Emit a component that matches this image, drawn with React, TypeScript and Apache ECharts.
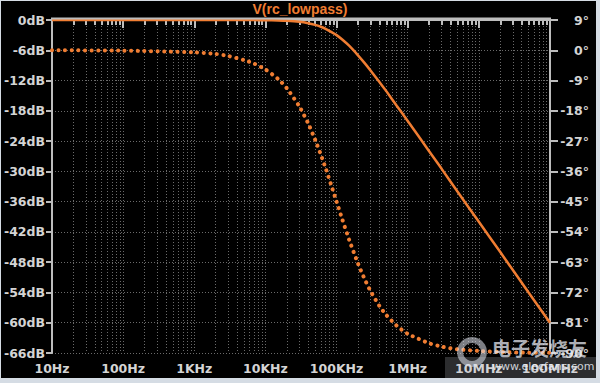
import React, { useEffect, useRef } from "react";
import * as echarts from "echarts";

const freqs = [
  10, 100, 1000, 2000, 3000, 5000, 7000, 10000, 15000, 20000, 30000, 40000,
  50000, 60000, 70000, 85000, 100000, 120000, 150000, 200000, 250000, 300000,
  400000, 500000, 700000, 1e6, 2e6, 3e6, 5e6, 1e7, 2e7, 5e7, 1e8,
];
// Magnitude (dB), solid line, left axis
const magDb = [
  0, 0, 0, 0, 0, -0.01, -0.02, -0.04, -0.1, -0.17, -0.37, -0.64, -0.97, -1.34,
  -1.74, -2.4, -3.0, -3.87, -5.1, -7.0, -8.6, -10.0, -12.3, -14.1, -17.0,
  -20.0, -26.0, -29.5, -34.0, -40.0, -46.0, -54.0, -60.0,
];
// Phase (degrees), dotted line, right axis
const phaseDeg = [
  0, -0.1, -0.6, -1.1, -1.7, -2.9, -4.0, -5.7, -8.5, -11.3, -16.7, -21.8,
  -26.6, -31.0, -35.0, -40.4, -45.0, -50.2, -56.3, -63.4, -68.2, -71.6, -76.0,
  -78.7, -81.9, -84.3, -87.1, -88.1, -88.9, -89.4, -89.7, -89.9, -89.9,
];
// X tick labels, one per decade from 10 Hz
const xTickLabels = ["10Hz", "100Hz", "1KHz", "10KHz", "100KHz", "1MHz", "10MHz", "100MHz"];
const title = "V(rc_lowpass)";
const watermarkCn = "电子发烧友";
const watermarkUrl = "www.elecfans.com";

const ORANGE = "#f07d32";
const AXIS = "#bdbdbd";
const LABEL = "#d4d4d4";
const GRID = "#6a6a6a";
const FONT = "DejaVu Sans";

export default function App() {
  const ref = useRef<HTMLDivElement>(null);
  useEffect(() => {
    if (!ref.current) return;
    const chart = echarts.init(ref.current, undefined, { renderer: "svg" });
    const magData = freqs.map((f, i) => [f, magDb[i]]);
    const phaseData = freqs.map((f, i) => [f, phaseDeg[i]]);
    const labelStyle = {
      color: LABEL,
      fontFamily: FONT,
      fontWeight: "bold" as const,
      fontSize: 12.5,
    };
    chart.setOption({
      animation: false,
      backgroundColor: "transparent",
      title: {
        text: title,
        left: "center",
        top: 2,
        padding: 0,
        textStyle: {
          color: ORANGE,
          fontFamily: "Liberation Sans",
          fontWeight: "bold",
          fontSize: 14,
          lineHeight: 14,
        },
      },
      grid: { left: 52, right: 50, top: 20, bottom: 30, containLabel: false },
      xAxis: {
        type: "log",
        logBase: 10,
        min: 10,
        max: 1e8,
        splitNumber: 7,
        axisLine: { show: true, lineStyle: { color: AXIS, width: 2 } },
        axisTick: { show: true, length: 8, lineStyle: { color: AXIS, width: 2 } },
        minorTick: { show: true, splitNumber: 9, length: 5, lineStyle: { color: AXIS, width: 2 } },
        axisLabel: {
          ...labelStyle,
          margin: 9,
          formatter: (v: number) => xTickLabels[Math.round(Math.log10(v)) - 1] ?? "",
        },
        splitLine: { show: true, lineStyle: { color: GRID, type: [1, 2], width: 1 } },
        minorSplitLine: { show: true, lineStyle: { color: GRID, type: [1, 2], width: 1 } },
      },
      yAxis: [
        {
          type: "value",
          position: "left",
          min: -66,
          max: 0,
          interval: 6,
          axisLine: { show: true, lineStyle: { color: AXIS, width: 2 } },
          axisTick: { show: true, length: 6, lineStyle: { color: AXIS, width: 2 } },
          axisLabel: { ...labelStyle, margin: 7, formatter: (v: number) => `${v}dB` },
          splitLine: { show: true, lineStyle: { color: GRID, type: [1, 2], width: 1 } },
        },
        {
          type: "value",
          position: "right",
          min: -90,
          max: 9,
          interval: 9,
          axisLine: { show: true, lineStyle: { color: AXIS, width: 2 } },
          axisTick: { show: true, length: 8, lineStyle: { color: AXIS, width: 2 } },
          axisLabel: { ...labelStyle, margin: 39, align: "right", formatter: (v: number) => `${v}°` },
          splitLine: { show: false },
        },
      ],
      series: [
        {
          type: "line",
          yAxisIndex: 1,
          data: phaseData,
          showSymbol: false,
          symbol: "none",
          smooth: 0.2,
          lineStyle: { color: ORANGE, width: 4, type: [0.1, 6.5], cap: "round" },
          z: 3,
        },
        {
          type: "line",
          yAxisIndex: 0,
          data: magData,
          showSymbol: false,
          symbol: "none",
          smooth: 0.2,
          lineStyle: { color: ORANGE, width: 2.5 },
          z: 4,
        },
      ],
      graphic: [
        {
          type: "line",
          shape: { x1: 51, y1: 18.5, x2: 551, y2: 18.5 },
          style: { stroke: AXIS, lineWidth: 2 },
          z: 10,
        },
        {
          type: "rect",
          shape: { x: 445, y: 357, width: 151, height: 21 },
          style: { fill: "rgba(200,205,215,0.22)" },
          z: 20,
        },
        {
          type: "ring",
          shape: { cx: 472, cy: 352, r: 15, r0: 9 },
          style: { fill: "rgba(225,230,240,0.55)" },
          z: 20,
        },
        {
          type: "text",
          x: 492,
          y: 338,
          style: {
            text: watermarkCn,
            fill: "rgba(230,232,240,0.75)",
            font: "bold 19px 'Noto Sans CJK SC'",
          },
          z: 21,
        },
        {
          type: "text",
          x: 492,
          y: 361,
          style: {
            text: watermarkUrl,
            fill: "rgba(235,238,245,0.85)",
            font: "11px 'DejaVu Sans'",
          },
          z: 21,
        },
      ],
    });
    return () => chart.dispose();
  }, []);
  return (
    <div style={{ position: "fixed", left: 0, top: 0, width: 600, height: 383, background: "#d5dce4" }}>
      <div style={{ position: "absolute", left: 1, top: 1, width: 595, height: 377, background: "#000" }} />
      <div ref={ref} style={{ position: "absolute", left: 0, top: 0, width: 600, height: 383 }} />
    </div>
  );
}
